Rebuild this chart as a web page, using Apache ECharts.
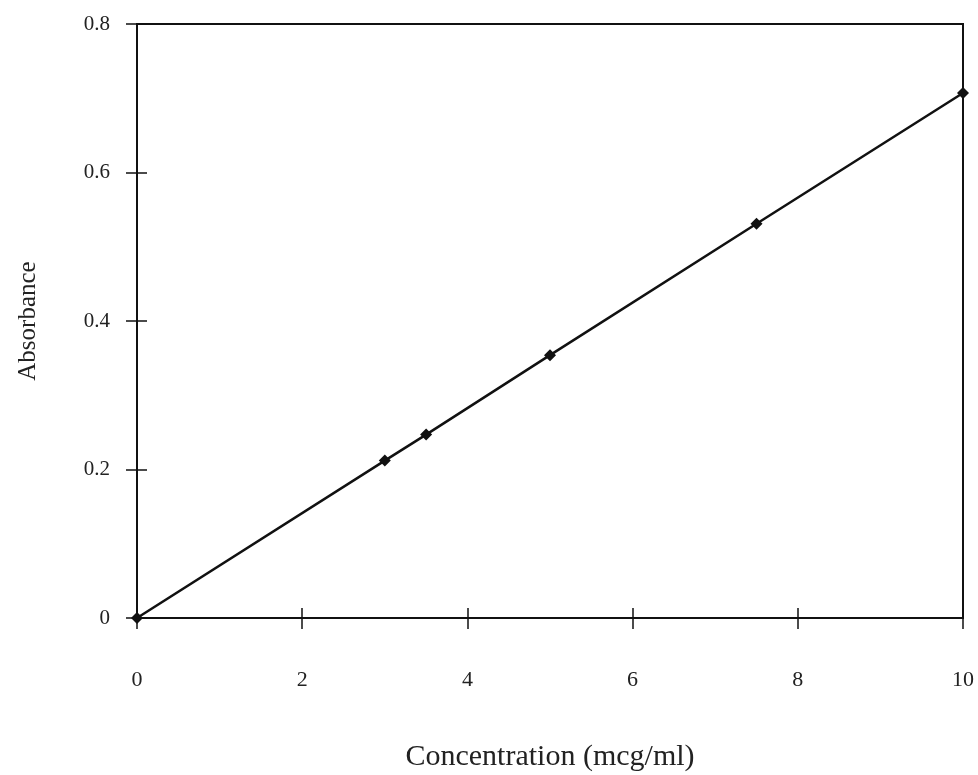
<!DOCTYPE html>
<html>
<head>
<meta charset="utf-8">
<script src="https://cdn.jsdelivr.net/npm/echarts@6/dist/echarts.min.js"></script>
<style>html,body{margin:0;padding:0;background:#fff;}#c{width:978px;height:775px;}</style>
</head>
<body>
<div id="c"></div>
<script>
const concentration = [0, 3, 3.5, 5, 7.5, 10];
const absorbance = [0, 0.212, 0.247, 0.354, 0.531, 0.707];
const xTitle = 'Concentration (mcg/ml)';
const yTitle = 'Absorbance';

const pts = concentration.map((x, i) => [x, absorbance[i]]);
const font = '"Liberation Serif", "DejaVu Serif", serif';
const chart = echarts.init(document.getElementById('c'));
const baseX = {
  type: 'value', min: 0, max: 10, interval: 2, position: 'bottom',
  axisLine: { show: true, onZero: false, lineStyle: { color: '#111', width: 2 } },
  splitLine: { show: false }
};
const baseY = {
  type: 'value', min: 0, max: 0.8, interval: 0.2, position: 'left',
  axisLine: { show: true, onZero: false, lineStyle: { color: '#111', width: 2 } },
  splitLine: { show: false }
};
chart.setOption({
  animation: false,
  backgroundColor: '#fff',
  grid: { left: 137, right: 15, top: 24, bottom: 157, show: true, borderColor: '#111', borderWidth: 2,
    containLabel: false, outerBoundsMode: 'none' },
  xAxis: [
    Object.assign({}, baseX, {
      name: xTitle, nameLocation: 'middle', nameGap: 124,
      nameTextStyle: { fontFamily: font, fontSize: 30, color: '#222' },
      axisTick: { show: true, inside: false, length: 11, lineStyle: { color: '#111', width: 1.5 } },
      axisLabel: { margin: 51, fontFamily: font, fontSize: 22, color: '#222',
        formatter: v => String(v) }
    }),
    Object.assign({}, baseX, {
      axisTick: { show: true, inside: true, length: 10, lineStyle: { color: '#111', width: 1.5 } },
      axisLabel: { show: false }
    })
  ],
  yAxis: [
    Object.assign({}, baseY, {
      name: yTitle, nameLocation: 'middle', nameGap: 96,
      nameTextStyle: { fontFamily: font, fontSize: 25, color: '#222' },
      axisTick: { show: true, inside: false, length: 11, lineStyle: { color: '#111', width: 1.5 } },
      axisLabel: { margin: 27, fontFamily: font, fontSize: 21, color: '#222',
        formatter: v => v === 0 ? '0' : v.toFixed(1) }
    }),
    Object.assign({}, baseY, {
      axisTick: { show: true, inside: true, length: 10, lineStyle: { color: '#111', width: 1.5 } },
      axisLabel: { show: false }
    })
  ],
  series: [{
    type: 'line', data: pts, xAxisIndex: 0, yAxisIndex: 0,
    symbol: 'diamond', symbolSize: 12, showSymbol: true,
    lineStyle: { color: '#111', width: 2.5 },
    itemStyle: { color: '#111' },
    clip: false
  }]
});
</script>
</body>
</html>
